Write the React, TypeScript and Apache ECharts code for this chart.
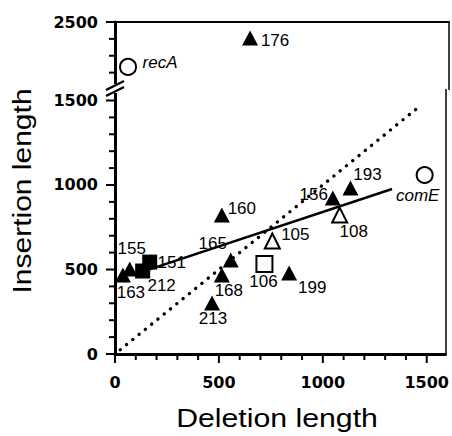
import React, { useEffect, useRef } from "react";
import * as echarts from "echarts";

// ---- data ----
const filledTriangleNames = ["193", "156", "199", "160", "165", "168", "213", "155", "163"];
const filledTriangleX = [1133, 1048, 838, 514, 557, 514, 467, 71, 38];
const filledTriangleY = [982, 923, 479, 822, 556, 467, 302, 503, 467];

const upperTriangleNames = ["176"];
const upperTriangleX = [643];
const upperTriangleY = [2405];

const openTriangleNames = ["108", "105"];
const openTriangleX = [1081, 757];
const openTriangleY = [822, 669];

const openSquareNames = ["106"];
const openSquareX = [719];
const openSquareY = [533];

const filledSquareNames = ["151", "212"];
const filledSquareX = [167, 133];
const filledSquareY = [544, 491];

const lowerCircleNames = ["comE"];
const lowerCircleX = [1490];
const lowerCircleY = [1059];

const upperCircleNames = ["recA"];
const upperCircleX = [62];
const upperCircleY = [2234];

const regressionX = [130, 1333];
const regressionY = [486, 976];

const identityX = [25, 1475];
const identityY = [25, 1475];

const xMajorTicks = [0, 500, 1000, 1500];
const xMinorTicks = [100, 200, 300, 400, 600, 700, 800, 900, 1100, 1200, 1300, 1400];
const yMajorTicks = [0, 500, 1000, 1500];
const yMinorTicks = [100, 200, 300, 400, 600, 700, 800, 900, 1100, 1200, 1300, 1400];
const yUpperMajorTicks = [2500];
const yUpperMinorTicks = [2200, 2300, 2400];

// ---- label placement (style) ----
const labelOffsets: Record<string, number[]> = {
  "176": [25, 2],
  "193": [17, -14],
  "156": [-19, -4],
  "108": [14, 16],
  comE: [-7, 20],
  "105": [23, -6],
  "106": [-1, 18],
  "199": [23, 14],
  "160": [20, -7],
  "165": [-18, -17],
  "168": [7, 15],
  "213": [1, 16],
  "155": [2, -20],
  "163": [8, 17],
  "151": [22, 0],
  "212": [19, 14],
  recA: [32, -4],
};
const italicNames = ["comE", "recA"];

const LABEL_FONT = "Liberation Sans";
const TICK_FONT = "DejaVu Sans";

function points(names: string[], xs: number[], ys: number[]) {
  return names.map((n, i) => ({
    name: n,
    value: [xs[i], ys[i]],
    label: {
      offset: labelOffsets[n] || [0, 0],
      fontStyle: italicNames.includes(n) ? "italic" : "normal",
    },
  }));
}

function pairs(xs: number[], ys: number[]) {
  return xs.map((x, i) => [x, ys[i]]);
}

const baseLabel = {
  show: true,
  position: "inside",
  formatter: "{b}",
  color: "#000",
  opacity: 1,
  fontFamily: LABEL_FONT,
  fontSize: 17,
};

const plain = (v: number) => String(v);

export default function App() {
  const ref = useRef<HTMLDivElement>(null);
  useEffect(() => {
    document.body.style.margin = "0";
    if (!ref.current) return;
    const chart = echarts.init(ref.current, null, { renderer: "svg" });

    const gridLeft = 115;
    const gridWidth = 334;
    const xMax = 1590;
    const upperMin = 2100;

    const mainLine = () => ({ show: true, onZero: false, lineStyle: { color: "#000", width: 3 } });
    const thinLine = () => ({ show: true, onZero: false, lineStyle: { color: "#000", width: 1.5 } });
    const tickFont = (vals: number[], margin: number) => ({
      show: true,
      customValues: vals,
      margin,
      color: "#000",
      fontFamily: TICK_FONT,
      fontWeight: "bold",
      fontSize: 16,
      formatter: plain,
    });

    const baseGraphic: any[] = [
      {
        type: "rect",
        z: 100,
        shape: { x: 105, y: 84, width: 15, height: 9 },
        style: { fill: "#fff" },
      },
      {
        type: "line",
        z: 101,
        shape: { x1: 106, y1: 90, x2: 124, y2: 81 },
        style: { stroke: "#000", lineWidth: 2.2 },
      },
      {
        type: "line",
        z: 101,
        shape: { x1: 106, y1: 96, x2: 124, y2: 87 },
        style: { stroke: "#000", lineWidth: 2.2 },
      },
      {
        type: "text",
        z: 100,
        x: 277,
        y: 418,
        scaleX: 1.21,
        style: {
          text: "Deletion length",
          fontFamily: LABEL_FONT,
          fontSize: 25,
          fill: "#000",
          textAlign: "center",
          textVerticalAlign: "middle",
          align: "center",
          verticalAlign: "middle",
        },
      },
      {
        type: "text",
        z: 100,
        x: 22,
        y: 191,
        rotation: Math.PI / 2,
        scaleX: 1.2,
        style: {
          text: "Insertion length",
          fontFamily: LABEL_FONT,
          fontSize: 25,
          fill: "#000",
          textAlign: "center",
          textVerticalAlign: "middle",
          align: "center",
          verticalAlign: "middle",
        },
      },
    ];

    const option: any = {
      animation: false,
      backgroundColor: "#fff",
      grid: [
        { left: gridLeft, width: gridWidth, top: 22, height: 67.5 },
        { left: gridLeft, width: gridWidth, top: 89.5, height: 264.5 },
      ],
      xAxis: [
        {
          type: "value",
          gridIndex: 0,
          position: "top",
          min: 0,
          max: xMax,
          splitLine: { show: false },
          axisTick: { show: false },
          axisLabel: { show: false },
          axisLine: { show: true, onZero: false, lineStyle: { color: "#000", width: 2 } },
        },
        {
          type: "value",
          gridIndex: 1,
          position: "bottom",
          min: 0,
          max: xMax,
          splitLine: { show: false },
          axisLine: mainLine(),
          axisTick: { show: false },
          axisLabel: tickFont(xMajorTicks, 20),
        },
      ],
      yAxis: [
        {
          type: "value",
          gridIndex: 0,
          position: "left",
          min: upperMin,
          max: 2500,
          splitLine: { show: false },
          axisLine: mainLine(),
          axisTick: { show: false },
          axisLabel: tickFont(yUpperMajorTicks, 17),
        },
        {
          type: "value",
          gridIndex: 0,
          position: "right",
          min: upperMin,
          max: 2500,
          splitLine: { show: false },
          axisTick: { show: false },
          axisLabel: { show: false },
          axisLine: thinLine(),
        },
        {
          type: "value",
          gridIndex: 1,
          position: "left",
          min: 0,
          max: 1565,
          splitLine: { show: false },
          axisLine: mainLine(),
          axisTick: { show: false },
          axisLabel: tickFont(yMajorTicks, 17),
        },
        {
          type: "value",
          gridIndex: 1,
          position: "right",
          min: 0,
          max: 1565,
          splitLine: { show: false },
          axisTick: { show: false },
          axisLabel: { show: false },
          axisLine: thinLine(),
        },
      ],
      series: [
        {
          type: "line",
          xAxisIndex: 1,
          yAxisIndex: 2,
          data: pairs(identityX, identityY),
          symbol: "none",
          z: 1,
          lineStyle: { color: "#000", width: 3.4, type: [0.1, 8], cap: "round" },
        },
        {
          type: "line",
          xAxisIndex: 1,
          yAxisIndex: 2,
          data: pairs(regressionX, regressionY),
          symbol: "none",
          z: 1,
          lineStyle: { color: "#000", width: 2.5 },
        },
        {
          type: "scatter",
          xAxisIndex: 1,
          yAxisIndex: 2,
          symbol: "triangle",
          symbolSize: [16, 15],
          itemStyle: { color: "#000", opacity: 1 },
          label: baseLabel,
          data: points(filledTriangleNames, filledTriangleX, filledTriangleY),
          z: 3,
        },
        {
          type: "scatter",
          xAxisIndex: 0,
          yAxisIndex: 0,
          symbol: "triangle",
          symbolSize: [16, 15],
          itemStyle: { color: "#000", opacity: 1 },
          label: baseLabel,
          data: points(upperTriangleNames, upperTriangleX, upperTriangleY),
          z: 3,
        },
        {
          type: "scatter",
          xAxisIndex: 1,
          yAxisIndex: 2,
          symbol: "triangle",
          symbolSize: [15, 15],
          itemStyle: { color: "#fff", borderColor: "#000", borderWidth: 2, opacity: 1 },
          label: baseLabel,
          data: points(openTriangleNames, openTriangleX, openTriangleY),
          z: 3,
        },
        {
          type: "scatter",
          xAxisIndex: 1,
          yAxisIndex: 2,
          symbol: "rect",
          symbolSize: 16,
          itemStyle: { color: "#fff", borderColor: "#000", borderWidth: 2, opacity: 1 },
          label: baseLabel,
          data: points(openSquareNames, openSquareX, openSquareY),
          z: 3,
        },
        {
          type: "scatter",
          xAxisIndex: 1,
          yAxisIndex: 2,
          symbol: "rect",
          symbolSize: 15,
          itemStyle: { color: "#000", opacity: 1 },
          label: baseLabel,
          data: points(filledSquareNames, filledSquareX, filledSquareY),
          z: 3,
        },
        {
          type: "scatter",
          xAxisIndex: 1,
          yAxisIndex: 2,
          symbol: "circle",
          symbolSize: 16,
          itemStyle: { color: "#fff", borderColor: "#000", borderWidth: 2, opacity: 1 },
          label: baseLabel,
          data: points(lowerCircleNames, lowerCircleX, lowerCircleY),
          z: 3,
        },
        {
          type: "scatter",
          xAxisIndex: 0,
          yAxisIndex: 0,
          symbol: "circle",
          symbolSize: 16,
          itemStyle: { color: "#fff", borderColor: "#000", borderWidth: 2, opacity: 1 },
          label: baseLabel,
          data: points(upperCircleNames, upperCircleX, upperCircleY),
          z: 3,
        },
      ],
      graphic: baseGraphic,
    };

    chart.setOption(option);

    // Tick marks positioned through the axes' own scales.
    const tickGraphic: any[] = [];
    const xAt = (v: number) => chart.convertToPixel({ xAxisIndex: 1 } as any, v) as number;
    const yLowAt = (v: number) => chart.convertToPixel({ yAxisIndex: 2 } as any, v) as number;
    const yUpAt = (v: number) => chart.convertToPixel({ yAxisIndex: 0 } as any, v) as number;
    const axisY = yLowAt(0);
    const axisX = xAt(0);
    const addX = (vals: number[], len: number) =>
      vals.forEach((v) => {
        const px = xAt(v);
        if (!isFinite(px)) return;
        tickGraphic.push({
          type: "line",
          z: 90,
          silent: true,
          shape: { x1: px, y1: axisY, x2: px, y2: axisY + len },
          style: { stroke: "#000", lineWidth: 2 },
        });
      });
    const addY = (vals: number[], at: (v: number) => number, len: number) =>
      vals.forEach((v) => {
        const py = at(v);
        if (!isFinite(py)) return;
        tickGraphic.push({
          type: "line",
          z: 90,
          silent: true,
          shape: { x1: axisX, y1: py, x2: axisX - len, y2: py },
          style: { stroke: "#000", lineWidth: 2 },
        });
      });
    if (isFinite(axisY) && isFinite(axisX)) {
      addX(xMajorTicks, 9);
      addX(xMinorTicks, 6);
      addY(yMajorTicks, yLowAt, 9);
      addY(yMinorTicks, yLowAt, 6);
      addY(yUpperMajorTicks, yUpAt, 9);
      addY(yUpperMinorTicks, yUpAt, 6);
      chart.setOption({ graphic: [...baseGraphic, ...tickGraphic] });
    }

    return () => chart.dispose();
  }, []);

  return (
    <div
      ref={ref}
      style={{ position: "fixed", left: 0, top: 0, width: 452, height: 436 }}
    />
  );
}
